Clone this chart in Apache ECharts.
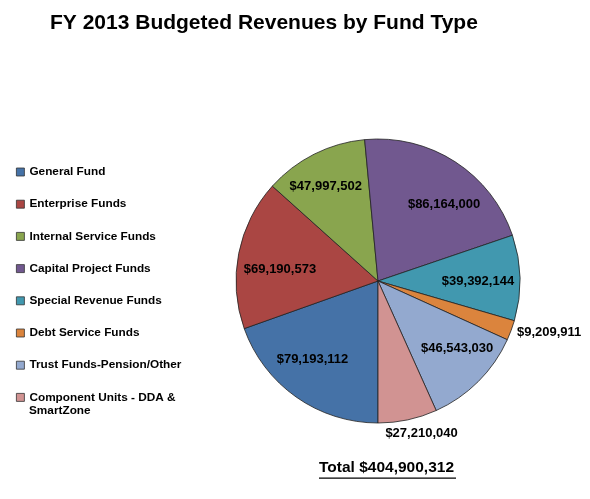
<!DOCTYPE html>
<html>
<head>
<meta charset="utf-8">
<script src="https://cdn.jsdelivr.net/npm/echarts@6/dist/echarts.min.js"></script>
<style>html,body{margin:0;padding:0;background:#fff;}#c{width:590px;height:499px;}</style>
</head>
<body>
<div id="c"></div>
<script>
var categories = ["General Fund", "Enterprise Funds", "Internal Service Funds", "Capital Project Funds",
  "Special Revenue Funds", "Debt Service Funds", "Trust Funds-Pension/Other", "Component Units - DDA & SmartZone"];
var values = [79193112, 69190573, 47997502, 86164000, 39392144, 9209911, 46543030, 27210040];
var colors = ["#4572A7", "#AA4643", "#89A54E", "#71588F", "#4198AF", "#DB843D", "#93A9CF", "#D19392"];
var outsideIdx = [5, 7];
var totalText = "Total $404,900,312";

var FONT = "'Liberation Sans', Arial, sans-serif";
function money(v) { return "$" + v.toLocaleString("en-US"); }

var chart = echarts.init(document.getElementById("c"), null, { renderer: "canvas" });
var center = [378, 281], R = 142;

// label nudges (style offsets), per slice index
var insideNudge = { 0: [-5, -7], 1: [5, 9], 2: [-5, -1], 3: [9, 12], 4: [-5, 3], 6: [5, -7] };

var mainData = categories.map(function (n, i) {
  return {
    name: n, value: values[i],
    itemStyle: { color: colors[i] },
    label: { show: outsideIdx.indexOf(i) >= 0 }
  };
});
var helperData = categories.map(function (n, i) {
  return {
    name: n, value: values[i],
    label: { show: outsideIdx.indexOf(i) < 0 }
  };
});

var lastName = categories[categories.length - 1];
var splitAt = lastName.indexOf("& ") + 1;

var option = {
  backgroundColor: "#fff",
  animation: false,
  title: {
    text: "FY 2013 Budgeted Revenues by Fund Type",
    left: 45, top: 8,
    textStyle: { fontFamily: FONT, fontWeight: "bold", fontSize: 21, color: "#000" }
  },
  legend: {
    orient: "vertical",
    left: 16, top: 165.5,
    padding: 0,
    itemWidth: 8, itemHeight: 8,
    itemGap: 19.2,
    icon: "rect",
    itemStyle: { borderColor: "#333", borderWidth: 0.8 },
    selectedMode: false,
    data: categories,
    formatter: function (n) { return n === lastName ? n.slice(0, splitAt) : n; },
    textStyle: { fontFamily: FONT, fontWeight: "bold", fontSize: 11.8, lineHeight: 13, color: "#000" }
  },
  graphic: [
    {
      type: "text", left: 29, top: 405,
      style: { text: lastName.slice(splitAt + 1), fontFamily: FONT, fontWeight: "bold", fontSize: 11.8, fill: "#000" }
    },
    {
      type: "text", left: 319, top: 460,
      style: { text: totalText, fontFamily: FONT, fontWeight: "bold", fontSize: 15.5, fill: "#000" }
    },
    {
      type: "rect", left: 319, top: 477.5,
      shape: { width: 137, height: 1.3 },
      style: { fill: "#000" }
    }
  ],
  series: [
    {
      type: "pie",
      center: center, radius: [0, R],
      startAngle: -90, clockwise: true,
      avoidLabelOverlap: false,
      data: mainData,
      itemStyle: { borderColor: "#222", borderWidth: 0.8 },
      emphasis: { disabled: true },
      label: {
        position: "outside",
        fontFamily: FONT, fontWeight: "bold", fontSize: 13, color: "#000",
        formatter: function (p) { return money(p.value); },
        distanceToLabelLine: 3
      },
      labelLine: { show: false, length: 3, length2: 0 },
      labelLayout: function (p) {
        if (p.dataIndex === 7) return { dx: -26, dy: 11 };
        if (p.dataIndex === 5) return { dy: 1 };
        return {};
      }
    },
    {
      type: "pie",
      center: center, radius: [62, R],
      startAngle: -90, clockwise: true,
      avoidLabelOverlap: false,
      silent: true,
      data: helperData,
      itemStyle: { color: "rgba(0,0,0,0)", borderWidth: 0 },
      emphasis: { disabled: true },
      label: {
        position: "inside",
        fontFamily: FONT, fontWeight: "bold", fontSize: 13, color: "#000",
        formatter: function (p) { return money(p.value); }
      },
      labelLine: { show: false },
      labelLayout: function (p) {
        var n = insideNudge[p.dataIndex];
        return n ? { dx: n[0], dy: n[1] } : {};
      }
    }
  ]
};
chart.setOption(option);
</script>
</body>
</html>
